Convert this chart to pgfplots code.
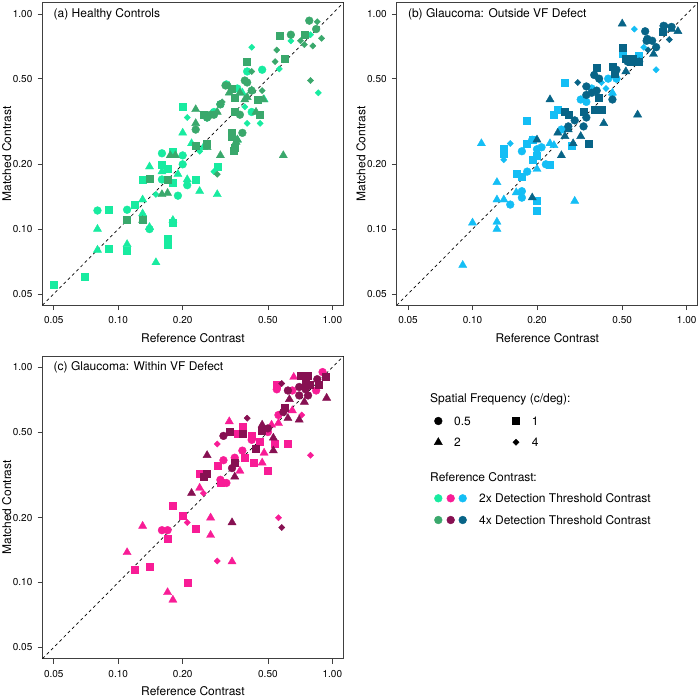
\documentclass[border=0pt]{standalone}
\usepackage{fontspec}
\setmainfont{TeX Gyre Heros}
\usepackage{pgfplots}
\pgfplotsset{compat=1.18}
\definecolor{HL}{RGB}{24,235,160}
\definecolor{HD}{RGB}{58,168,108}
\definecolor{BL}{RGB}{20,190,245}
\definecolor{BD}{RGB}{8,100,135}
\definecolor{CL}{RGB}{248,28,150}
\definecolor{CD}{RGB}{135,16,82}
\tikzset{
 myttl/.style={anchor=base west, inner sep=0pt, font=\fontsize{12}{14}\selectfont},
 mydiag/.style={black, dash pattern=on 3pt off 3pt, line width=0.7pt},
}
\pgfplotsset{
 myc/.style={only marks, color=#1, mark=*, mark size=3.9pt, mark options={draw=none, fill=#1}},
 mys/.style={only marks, color=#1, mark=square*, mark size=3.5pt, mark options={draw=none, fill=#1}},
 myt/.style={only marks, color=#1, mark=triangle*, mark size=4.7pt, mark options={draw=none, fill=#1}},
 myd/.style={only marks, color=#1, mark=square*, mark size=2.2pt, mark options={draw=none, fill=#1, rotate=45}},
}
\begin{document}
\begin{tikzpicture}
\path[use as bounding box] (0pt,0pt) rectangle (700pt,699pt);
% ---------------- (a)
\begin{axis}[at={(42.5pt,393.8pt)}, anchor=south west,
  scale only axis, width=301pt, height=302.5pt,
  xmode=log, ymode=log, xmin=0.0443, xmax=1.127, ymin=0.0443, ymax=1.127,
  xtick={0.05,0.1,0.2,0.5,1}, xticklabels={0.05,0.10,0.20,0.50,1.00},
  ytick={0.05,0.1,0.2,0.5,1}, yticklabels={0.05,0.10,0.20,0.50,1.00},
  minor tick num=0,
  tick align=outside, major tick length=5pt, xtick pos=left, ytick pos=left,
  axis line style={black!75, line width=0.7pt}, tick style={black!75, line width=0.6pt},
  tick label style={font=\fontsize{10}{12}\selectfont},
  xticklabel style={anchor=base, yshift=-13.5pt},
  yticklabel style={anchor=east, inner sep=0pt, xshift=-5pt},
  xlabel={Reference Contrast}, ylabel={Matched Contrast},
  xlabel style={at={(axis description cs:0.5,-0.1225)}, anchor=base, font=\fontsize{12}{14}\selectfont},
  ylabel style={at={(axis description cs:-0.1043,0.5)}, anchor=base, font=\fontsize{12}{14}\selectfont}]
\addplot[mys=HL] coordinates {(0.05,0.055) (0.07,0.06) (0.09,0.123) (0.09,0.081) (0.11,0.079) (0.12,0.13) (0.13,0.17) (0.17,0.19) (0.16,0.2) (0.18,0.165) (0.18,0.23) (0.18,0.107) (0.17,0.09) (0.17,0.085) (0.2,0.37) (0.23,0.17) (0.29,0.195)};
\addplot[myt=HL] coordinates {(0.08,0.043) (0.08,0.08) (0.08,0.10) (0.11,0.085) (0.13,0.137) (0.13,0.118) (0.14,0.195) (0.14,0.102) (0.15,0.07) (0.16,0.185) (0.19,0.18) (0.18,0.11) (0.2,0.28) (0.21,0.17) (0.24,0.15) (0.22,0.25) (0.25,0.24) (0.29,0.145) (0.36,0.26) (0.48,0.40) (0.38,0.43)};
\addplot[myc=HL] coordinates {(0.08,0.122) (0.11,0.123) (0.14,0.10) (0.16,0.225) (0.16,0.17) (0.2,0.22) (0.2,0.2) (0.19,0.143) (0.21,0.16) (0.28,0.35) (0.32,0.47) (0.30,0.38) (0.36,0.45) (0.40,0.54) (0.42,0.35) (0.47,0.55) (0.26,0.33)};
\addplot[myd=HL] coordinates {(0.15,0.145) (0.21,0.33) (0.24,0.23) (0.28,0.185) (0.42,0.70) (0.39,0.37) (0.40,0.31) (0.46,0.31) (0.565,0.555) (0.64,0.75) (0.79,0.80) (0.86,0.43)};
\addplot[mys=HD] coordinates {(0.11,0.111) (0.13,0.11) (0.14,0.172) (0.17,0.17) (0.23,0.245) (0.26,0.25) (0.25,0.34) (0.34,0.45) (0.35,0.41) (0.35,0.35) (0.34,0.28) (0.34,0.27) (0.35,0.24) (0.40,0.60) (0.45,0.40) (0.46,0.34) (0.57,0.79) (0.60,0.62) (0.74,0.80) (0.347,0.232)};
\addplot[myt=HD] coordinates {(0.13,0.11) (0.16,0.145) (0.17,0.147) (0.175,0.22) (0.185,0.22) (0.23,0.36) (0.23,0.31) (0.26,0.24) (0.29,0.35) (0.3,0.22) (0.33,0.46) (0.36,0.26) (0.40,0.41) (0.39,0.40) (0.42,0.44) (0.44,0.35) (0.59,0.22) (0.33,0.43) (0.37,0.43) (0.476,0.40) (0.355,0.254)};
\addplot[myc=HD] coordinates {(0.23,0.29) (0.26,0.33) (0.28,0.34) (0.30,0.38) (0.37,0.34) (0.38,0.28) (0.39,0.49) (0.40,0.48) (0.64,0.80) (0.78,0.93) (0.84,0.85) (0.317,0.465) (0.42,0.44) (0.27,0.34)};
\addplot[myd=HD] coordinates {(0.29,0.18) (0.42,0.54) (0.47,0.44) (0.54,0.60) (0.55,0.68) (0.71,0.75) (0.81,0.71) (0.85,0.92) (0.89,0.77) (0.79,0.49) (0.74,0.72) (0.306,0.39)};
\addplot[mydiag] coordinates {(0.0443,0.0443) (1.127,1.127)};
\node[myttl] at (axis description cs:0.0367,0.9517) {(a) Healthy Controls};
\end{axis}
% ---------------- (b)
\begin{axis}[at={(396.8pt,393.8pt)}, anchor=south west,
  scale only axis, width=301pt, height=302.5pt,
  xmode=log, ymode=log, xmin=0.0443, xmax=1.127, ymin=0.0443, ymax=1.127,
  xtick={0.05,0.1,0.2,0.5,1}, xticklabels={0.05,0.10,0.20,0.50,1.00},
  ytick={0.05,0.1,0.2,0.5,1}, yticklabels={0.05,0.10,0.20,0.50,1.00},
  minor tick num=0,
  tick align=outside, major tick length=5pt, xtick pos=left, ytick pos=left,
  axis line style={black!75, line width=0.7pt}, tick style={black!75, line width=0.6pt},
  tick label style={font=\fontsize{10}{12}\selectfont},
  xticklabel style={anchor=base, yshift=-13.5pt},
  yticklabel style={anchor=east, inner sep=0pt, xshift=-5pt},
  xlabel={Reference Contrast}, ylabel={Matched Contrast},
  xlabel style={at={(axis description cs:0.5,-0.1225)}, anchor=base, font=\fontsize{12}{14}\selectfont},
  ylabel style={at={(axis description cs:-0.1043,0.5)}, anchor=base, font=\fontsize{12}{14}\selectfont}]
\addplot[myt=BL] coordinates {(0.09,0.068) (0.10,0.107) (0.13,0.108) (0.13,0.10) (0.13,0.137) (0.13,0.165) (0.14,0.137) (0.11,0.25) (0.16,0.148) (0.2,0.19) (0.23,0.25) (0.24,0.245) (0.30,0.135) (0.45,0.43)};
\addplot[myc=BL] coordinates {(0.15,0.13) (0.17,0.15) (0.17,0.14) (0.17,0.23) (0.18,0.185) (0.19,0.26) (0.2,0.235) (0.22,0.2) (0.26,0.29) (0.32,0.4) (0.34,0.39) (0.36,0.45) (0.43,0.5) (0.47,0.5) (0.21,0.24)};
\addplot[mys=BL] coordinates {(0.14,0.237) (0.14,0.225) (0.16,0.18) (0.17,0.175) (0.18,0.32) (0.18,0.25) (0.19,0.21) (0.19,0.26) (0.2,0.136) (0.2,0.122) (0.2,0.22) (0.23,0.2) (0.24,0.34) (0.25,0.36) (0.29,0.245) (0.27,0.48) (0.5,0.65) (0.6,0.64)};
\addplot[myd=BL] coordinates {(0.14,0.21) (0.15,0.25) (0.42,0.45) (0.45,0.42) (0.57,0.85) (0.63,0.7) (0.72,0.55) (0.40,0.48)};
\addplot[myt=BD] coordinates {(0.19,0.14) (0.2,0.26) (0.23,0.4) (0.26,0.22) (0.25,0.28) (0.27,0.27) (0.28,0.29) (0.32,0.27) (0.41,0.31) (0.52,0.54) (0.5,0.9) (0.59,0.34) (0.7,0.65) (0.91,0.83) (0.85,0.85) (0.295,0.25)};
\addplot[myc=BD] coordinates {(0.28,0.30) (0.33,0.30) (0.34,0.33) (0.34,0.46) (0.34,0.42) (0.37,0.52) (0.38,0.44) (0.39,0.5) (0.45,0.4) (0.47,0.55) (0.53,0.6) (0.6,0.6) (0.64,0.83) (0.65,0.75) (0.69,0.75) (0.72,0.7) (0.78,0.88) (0.85,0.87) (0.36,0.43) (0.655,0.765) (0.30,0.32)};
\addplot[mys=BD] coordinates {(0.27,0.35) (0.28,0.34) (0.33,0.35) (0.35,0.25) (0.38,0.56) (0.37,0.36) (0.40,0.36) (0.39,0.41) (0.45,0.57) (0.5,0.7) (0.55,0.6) (0.6,0.6) (0.77,0.83) (0.52,0.62) (0.56,0.62) (0.46,0.53)};
\addplot[myd=BD] coordinates {(0.31,0.48) (0.66,0.68) (0.83,0.76) (0.80,0.88)};
\addplot[mydiag] coordinates {(0.0443,0.0443) (1.127,1.127)};
\node[myttl] at (axis description cs:0.0367,0.9517) {(b) Glaucoma: Outside VF Defect};
\end{axis}
% ---------------- (c)
\begin{axis}[at={(42.5pt,40.4pt)}, anchor=south west,
  scale only axis, width=301pt, height=302.5pt,
  xmode=log, ymode=log, xmin=0.0443, xmax=1.127, ymin=0.0443, ymax=1.127,
  xtick={0.05,0.1,0.2,0.5,1}, xticklabels={0.05,0.10,0.20,0.50,1.00},
  ytick={0.05,0.1,0.2,0.5,1}, yticklabels={0.05,0.10,0.20,0.50,1.00},
  minor tick num=0,
  tick align=outside, major tick length=5pt, xtick pos=left, ytick pos=left,
  axis line style={black!75, line width=0.7pt}, tick style={black!75, line width=0.6pt},
  tick label style={font=\fontsize{10}{12}\selectfont},
  xticklabel style={anchor=base, yshift=-13.5pt},
  yticklabel style={anchor=east, inner sep=0pt, xshift=-5pt},
  xlabel={Reference Contrast}, ylabel={Matched Contrast},
  xlabel style={at={(axis description cs:0.5,-0.1225)}, anchor=base, font=\fontsize{12}{14}\selectfont},
  ylabel style={at={(axis description cs:-0.1043,0.5)}, anchor=base, font=\fontsize{12}{14}\selectfont}]
\addplot[myt=CL] coordinates {(0.11,0.138) (0.13,0.183) (0.17,0.09) (0.18,0.083) (0.27,0.2) (0.27,0.166) (0.24,0.275) (0.33,0.56) (0.34,0.125) (0.37,0.33) (0.48,0.4) (0.47,0.36) (0.52,0.54) (0.56,0.55) (0.65,0.63) (0.66,0.9)};
\addplot[mys=CL] coordinates {(0.12,0.115) (0.14,0.118) (0.17,0.16) (0.18,0.227) (0.2,0.205) (0.21,0.1) (0.23,0.178) (0.24,0.32) (0.29,0.35) (0.3,0.29) (0.36,0.49) (0.38,0.53) (0.39,0.38) (0.43,0.36) (0.42,0.48) (0.46,0.45) (0.5,0.33) (0.54,0.44) (0.62,0.44) (0.55,0.83)};
\addplot[myc=CL] coordinates {(0.16,0.175) (0.17,0.175) (0.3,0.3) (0.31,0.37) (0.32,0.29) (0.35,0.38) (0.38,0.41) (0.42,0.46) (0.5,0.5) (0.56,0.6) (0.55,0.79) (0.65,0.78) (0.84,0.78) (0.9,0.95)};
\addplot[myd=CL] coordinates {(0.21,0.19) (0.25,0.26) (0.29,0.44) (0.29,0.126) (0.56,0.2) (0.72,0.6) (0.79,0.39)};
\addplot[myt=CD] coordinates {(0.22,0.26) (0.26,0.39) (0.34,0.19) (0.35,0.31) (0.47,0.54) (0.53,0.47) (0.53,0.41) (0.62,0.58) (0.63,0.71) (0.7,0.57) (0.74,0.69) (0.94,0.72)};
\addplot[mys=CD] coordinates {(0.26,0.32) (0.25,0.31) (0.33,0.5) (0.35,0.36) (0.38,0.49) (0.44,0.42) (0.47,0.51) (0.6,0.65) (0.71,0.91) (0.77,0.91) (0.78,0.83) (0.86,0.83) (0.93,0.9) (0.75,0.85)};
\addplot[myc=CD] coordinates {(0.31,0.48) (0.34,0.34) (0.5,0.52) (0.59,0.62) (0.62,0.78) (0.7,0.81) (0.7,0.74) (0.77,0.74) (0.85,0.88) (0.75,0.79)};
\addplot[myd=CD] coordinates {(0.4,0.58) (0.58,0.18) (0.58,0.84)};
\addplot[mydiag] coordinates {(0.0443,0.0443) (1.127,1.127)};
\node[myttl] at (axis description cs:0.0367,0.9517) {(c) Glaucoma: Within VF Defect};
\end{axis}
% ---------------- legend
\begin{axis}[at={(0pt,0pt)}, anchor=south west, scale only axis, width=700pt, height=699pt,
  xmin=0, xmax=700, ymin=0, ymax=699, y dir=reverse, hide axis, clip=false]
\addplot[myc=black] coordinates {(438.3,421)};
\addplot[mys=black] coordinates {(516,421)};
\addplot[myt=black] coordinates {(438.3,442.3)};
\addplot[myd=black] coordinates {(516,442.3)};
\addplot[myc=HL] coordinates {(438.3,498.3)};
\addplot[myc=CL] coordinates {(450.7,498.3)};
\addplot[myc=BL] coordinates {(462.7,498.3)};
\addplot[myc=HD] coordinates {(438.3,520)};
\addplot[myc=CD] coordinates {(450.7,520)};
\addplot[myc=BD] coordinates {(462.7,520)};
\node[myttl] at (axis cs:430,402.6) {Spatial Frequency (c/deg):};
\node[myttl] at (axis cs:454,425.3) {0.5};
\node[myttl] at (axis cs:531.7,425.3) {1};
\node[myttl] at (axis cs:454,446.6) {2};
\node[myttl] at (axis cs:531.7,446.6) {4};
\node[myttl] at (axis cs:430,481.6) {Reference Contrast:};
\node[myttl] at (axis cs:479,502.6) {2x Detection Threshold Contrast};
\node[myttl] at (axis cs:479,524.3) {4x Detection Threshold Contrast};
\end{axis}
\end{tikzpicture}
\end{document}
